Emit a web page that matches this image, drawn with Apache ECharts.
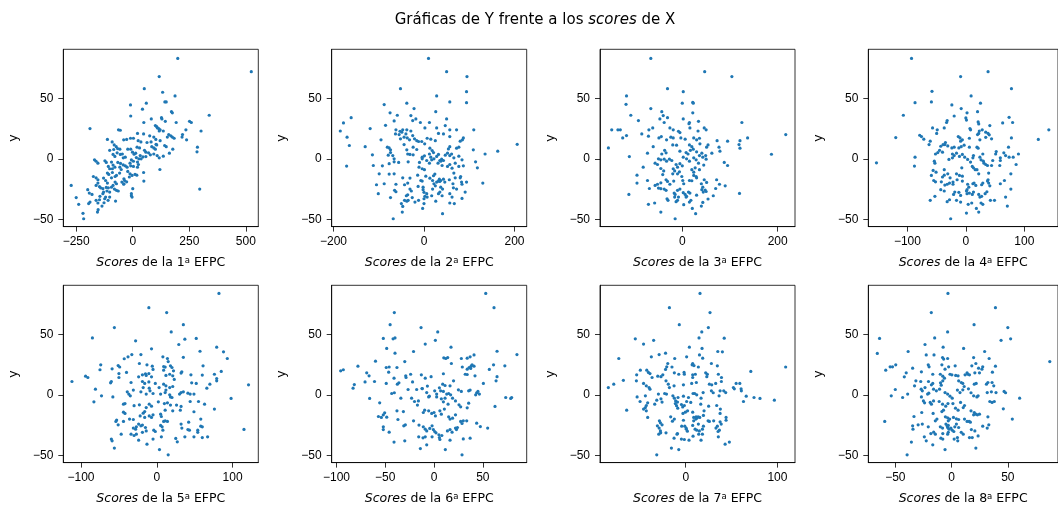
<!DOCTYPE html>
<html>
<head>
<meta charset="utf-8">
<script src="https://cdn.jsdelivr.net/npm/echarts@6/dist/echarts.min.js"></script>
<style>
  html, body { margin: 0; padding: 0; background: #fff; }
  #chart { width: 1058px; height: 509px; }
</style>
</head>
<body>
<div id="chart"></div>
<script>
// Y against the scores of each functional principal component (EFPC 1..8)
const efpc1 = [[199,83],[524,72],[117,68],[51,58],[132,55],[187,52],[142,47],[148,47],[-10,44.5],[60,46],[43,41],[171,39],[175,38],[-9,35.4],[338,36],[127,34],[129,33],[82,33],[144,31],[251,31],[259,30],[192,30],[49,30],[100,27.5],[106,26.6],[109,25.5],[115,25],[121,24],[-189,25],[-63,24],[-55,23.6],[235,24],[302,23],[135,23],[117,23],[21,21],[48,20.6],[220,20],[159,20],[168,19],[175,18],[183,17],[75,19],[93,18],[153,18],[3,17],[-10,17],[-27,16],[-112,16],[102,16],[121,15],[218,18],[238,15.7],[-91,14],[-40,15.7],[24,15],[36,14],[63,13.5],[81,14],[103,12],[106,11.5],[141,11],[148,10],[-82,11.5],[-73,10],[-67,8.5],[-57,8],[286,9.6],[284,5.8],[19,9.6],[30,9],[84,10],[93,9],[100,8],[177,8],[-22,8],[-9,8],[-102,7],[-84,7.7],[52,7],[58,5.5],[70,5],[162,4.7],[-1,5.5],[6,3.8],[13,4.7],[-69,5],[-55,3.6],[-46,4],[-87,3.6],[-79,2],[33,2.7],[45,1.6],[58,1.9],[78,3.3],[93,4],[108,2.7],[117,0.8],[135,2.2],[16,1],[27,0],[37,0],[21,-2.7],[-33,1.4],[-42,0.8],[-6,-0.8],[3,-2],[-169,-0.8],[-162,-2],[-154,-3.6],[-123,-1.6],[-117,-3],[-108,-6.3],[-102,-8.2],[-94,-2.7],[-87,-5.2],[-66,-3],[-54,-3.8],[-42,-5],[-33,-5.8],[-25,-6.9],[-12,-3.6],[-9,-5.8],[3,-6.3],[25,-4.7],[21,-6.9],[-79,-6.9],[-90,-8.2],[-57,-6.9],[-51,-8.8],[-22,-10.4],[-12,-12.4],[-3,-13.7],[-15,-15],[-112,-11.8],[-106,-12.9],[-90,-11.3],[-78,-14.6],[-72,-13.7],[-58,-11.8],[-39,-16.5],[10,-12.9],[18,-13.5],[48,-11.3],[49,-18.4],[120,-8.8],[-174,-14.6],[-162,-15.7],[-154,-17.3],[-129,-15.9],[-120,-17.9],[-112,-20],[-94,-15.7],[-78,-19.2],[-72,-20.6],[-48,-19.2],[-40,-21],[-39,-20.6],[-36,-17.9],[-27,-19],[-154,-20],[-162,-22],[-147,-23],[-142,-24],[-132,-24.7],[-117,-23.6],[-108,-24],[-94,-23.4],[-87,-22],[-81,-25],[-72,-26],[-64,-26.6],[0,-24.7],[-6,-28.8],[-6,-30.5],[-3,-31.6],[-272,-22],[-250,-32],[-239,-37.6],[-220,-45],[-217,-49.5],[-199,-25.5],[-192,-28.3],[-180,-29.4],[-189,-35.7],[-195,-37],[-162,-34.3],[-154,-36.5],[-147,-33.8],[-153,-42],[-156,-44],[-136,-39],[-124,-33],[-127,-36.3],[-109,-34.3],[-102,-31.6],[-120,-31.6],[-132,-28.8],[-76,-34.9],[-129,-27.5],[-114,-26.6],[-102,-27.5],[-145,-31],[296,-25]];

const efpc2 = [[10,83],[50,72],[95,68],[-52,58],[94,55.5],[94,46.4],[28,52],[57,47],[-88,44.8],[-38,46],[-22,41.5],[26,39],[-75,38],[-59,36],[-161,34],[-29,35.7],[-25,31.6],[-178,29.7],[-66,31.3],[-18,33],[50,33],[-8,30],[12,30],[47,27.5],[-85,27.7],[-119,25],[2,25.5],[28,25.5],[-185,23],[72,24],[57,24],[110,24],[-62,24],[-53,22.8],[-63,20.6],[-55,20],[-49,22],[-47,24],[-40,20.6],[-38,24],[-29,23],[43,20.6],[32,21],[-170,17.9],[57,18.4],[87,17.3],[85,15.7],[-95,15.7],[-52,16.5],[-44,17.9],[-37,17.3],[-32,15.7],[-25,19.2],[-21,16.5],[-16,15],[-12,14.3],[-5,14.3],[7,17],[15,16.2],[25,15],[-165,11],[80,14.6],[-130,10],[-81,9.6],[-77,9],[-74,7.4],[-44,11.8],[-38,7.4],[-24,9.6],[-16,7.7],[1.5,12.4],[13,8.8],[18,6.9],[57,10],[54,8.2],[72,8.8],[77,9.6],[109,7.4],[163,6.3],[206,12],[-114,3.3],[-74,5.2],[-69,2.7],[-66,0],[-36,4],[-31,3.6],[-24,3.3],[-4,1.4],[1,2.5],[-4,0],[12,4],[21,5.2],[15,1.4],[22,0],[28,2],[32,3.6],[35,-1.4],[39,-0.3],[47,3],[52,4.7],[57,2.7],[61,4],[66,0.8],[77,2.2],[135,4],[-171,-6],[-112,-5.5],[-92,-5.8],[-77,-4],[-66,-2.5],[-56,-3],[-35,-2.5],[-10,-3],[6,-1.4],[12,-3.6],[17,-0.8],[31,-3.6],[37,-1.9],[40,-5.5],[43,-1.4],[52,-6.3],[57,-4.7],[62,-7.7],[69,-3.6],[77,-6.3],[84,-0.8],[87,-5.8],[114,-2.5],[118,-7.4],[-4,-8.2],[1,-9],[-11,-6.9],[-99,-12.4],[-77,-12.6],[-66,-12.4],[-47,-15.7],[-31,-15.9],[-14,-13.5],[4,-14.3],[21,-14],[24,-12.6],[-7,-17.9],[-4,-18.4],[34,-16.8],[37,-17.9],[13,-16],[19,-17.9],[28,-19.2],[32,-18.4],[35,-18.7],[43,-16.8],[46,-19.2],[56,-17.3],[69,-15.7],[80,-15.7],[81,-14.6],[66,-11.8],[83,-19.2],[84,-21],[94,-19.2],[130,-20],[-105,-21.4],[-88,-20.6],[-62,-21],[-43,-21.4],[-36,-20],[-13,-22.8],[-2,-23.4],[22,-20.6],[25,-22.3],[19,-25],[37,-23.4],[41,-25],[64,-20.6],[65,-24],[72,-25],[-101,-28.8],[-65,-26],[-62,-27.2],[-31,-25],[-28,-26.6],[-36,-29.7],[-39,-30.5],[-43,-34.3],[-38,-35],[-35,-34.3],[-26,-32],[-2,-25.5],[0,-27.7],[6,-28.8],[2,-31],[0,-33],[17,-30.5],[32,-28.8],[35,-27.5],[40,-30.5],[26,-35],[57,-28.8],[62,-31.6],[67,-37],[84,-32.7],[91,-27.5],[-74,-32],[-50,-37],[-47,-39.3],[-20,-35.7],[-12,-34.3],[-3,-41],[0,-37],[57,-36.5],[-48,-44],[41,-45.3],[-68,-49.5],[7,-31.6],[-79,3]];

const efpc3 = [[-66,83],[47,72],[104,68],[-31,58],[2,55.5],[-117,52],[-118,45],[0,46],[22,46.7],[23,46],[-66,41.5],[22,38],[-43,39],[-40,35.7],[-108,36],[2,33],[-31,34],[-47,33],[-92,31.6],[34,31],[15,30],[-38,30],[125,30],[-130,24],[-148,24],[-135,24],[-70,24],[-62,25.5],[-26,25.5],[-19,24],[-8,22.8],[-5,21.7],[14,29],[16,25.5],[46,25.5],[50,24],[33,23],[-125,17.3],[-117,19.2],[-85,20.6],[-71,18.7],[-49,17.3],[-44,18.4],[-24,17.9],[-19,17.3],[-3,17.3],[6,16.2],[24,17.3],[30,15.7],[36,17],[73,15],[95,14.6],[121,15],[137,17.3],[-33,15.7],[-155,9],[-61,10],[-20,11.5],[-12,11.3],[15,11.5],[20,10],[37,12.4],[51,9.6],[54,11.5],[77,9.6],[79,6.3],[119,11.8],[121,8.8],[-111,1.9],[-73,4.7],[-37,7],[-34,5],[-43,4],[-5,6.3],[8,5.2],[12,4],[17,7],[23,8],[30,5.8],[36,2.7],[41,4.7],[43,1.4],[49,2.7],[62,4.7],[187,3.8],[217,20],[-50,0],[-45,-0.8],[-38,-0.3],[-27,-0.3],[-22,-1.4],[2,1.4],[9,0],[15,-1.9],[24,0.8],[29,-0.8],[34,-3.6],[45,-5.2],[50,-0.3],[88,-3],[95,-5.5],[-57,-3.6],[-52,-4.7],[-33,-1.9],[-13,-4.7],[-10,-6.9],[-5,-4],[0,-5.8],[-82,-6.9],[-45,-8],[-39,-10],[-41,-13],[-19,-8.2],[-16,-10],[-10,-12.4],[-6,-10.7],[20,-9],[24,-11],[27,-7.4],[36,-9],[-95,-13.5],[-95,-20],[-112,-29.4],[-73,-17.9],[-57,-22],[-52,-21],[-45,-19.8],[-34,-17.3],[-31,-18.7],[-26,-21],[-20,-12.4],[-18,-18.4],[-1,-14.6],[1,-17.9],[3,-20.6],[15,-17.9],[20,-18.1],[24,-13.7],[29,-14.6],[30,-15.7],[46,-17.3],[51,-19.5],[40,-20.6],[43,-23.4],[48,-25.8],[50,-27],[72,-17.3],[78,-21],[70,-24.5],[90,-22.3],[120,-28.6],[-69,-24.5],[-50,-24.2],[-45,-24.7],[-38,-25],[-34,-26],[-32,-33],[-30,-34.3],[-17,-28.3],[-15,-29.4],[-10,-26],[-5,-25],[-8,-31.6],[2,-28],[6,-29.4],[8,-31.6],[13,-27.5],[16,-28.3],[30,-30],[41,-25.5],[44,-27.5],[65,-30.5],[54,-33.2],[-13,-35.4],[-10,-34.3],[-16,-31.6],[3,-37.9],[15,-35.7],[40,-39],[43,-36],[-71,-37.6],[-58,-36.5],[-45,-44],[21,-41],[28,-45.3],[-15,-49.5],[9,-31],[18,-34.3]];

const efpc4 = [[-93,83],[38,72],[-9,68],[78,58],[-58,55.8],[9,52],[-87,46.4],[-59,47],[25,46],[-24,44.5],[-8,41.5],[20,39],[2,38],[-107,36],[-20,35.4],[74,34.3],[0,33.8],[1,32],[-32,31.6],[-33,30],[63,29.7],[80,30],[21,30.5],[22,28.8],[41,27.5],[-57,25.5],[-37,25.5],[7,25],[8,24],[-49,24],[-50,21],[28,24],[142,24],[34,22],[38,21],[40,19.8],[23,23],[22,21],[20,20],[-120,17.6],[-79,19.5],[-76,18.4],[-72,16.2],[-61,14.6],[-63,11.8],[-13,18.4],[-10,17.3],[-6,15.7],[-9,14.6],[6,17],[24,15.7],[34,17.8],[44,16.5],[78,17.3],[124,16],[-35,13.5],[-36,11.8],[-31,10.7],[-43,10.4],[-39,11.8],[-24,9],[-20,9.6],[-12,9],[-8,10],[-3,11.3],[6,9.6],[19,9.6],[21,8.8],[73,9.6],[-52,4],[-48,5.2],[-45,7],[-40,5.5],[-23,4],[-20,2.7],[-16,4.7],[-11,2],[-6,3.6],[-2,1.4],[13,2.7],[12,0.8],[29,4],[52,6],[51,4],[65,5],[74,1.4],[68,2.7],[90,4],[59,0.8],[81,1.4],[-87,1.4],[-153,-3.3],[-88,-6],[-54,-1.9],[-53,-3.6],[-29,-0.5],[-23,0.8],[3,-0.5],[8,-2.7],[11,-6.3],[13,-7.4],[16,-9],[24,1.4],[26,-0.8],[30,-1.9],[31,-3.6],[34,-4.7],[37,-5.5],[44,-5.5],[46,-1.4],[58,-5.5],[59,-1.4],[86,-4.7],[-56,-9.6],[-59,-13.7],[-51,-11],[-37,-9],[-37,-13.5],[-40,-15],[-31,-12.4],[-27,-15.7],[-16,-12.4],[-11,-13.7],[-7,-7.4],[-6,-14.3],[19,-9],[22,-12.4],[39,-11.8],[38,-17.3],[77,-12.4],[-55,-17.9],[-52,-19],[-42,-19],[-36,-21.7],[-32,-21],[-28,-20],[-22,-19.2],[-22,-21],[-15,-17.3],[-6,-18.4],[3,-21],[5,-23.4],[2,-25.5],[12,-20.6],[14,-20],[17,-22],[29,-20],[27,-21.4],[37,-18.4],[39,-20],[41,-22.3],[59,-20.6],[66,-17.9],[77,-25],[-43,-25.5],[-37,-26.6],[-19,-27.5],[-21,-29.4],[-12,-27.7],[-9,-30.2],[1,-26.6],[2,-28.8],[6,-28.3],[11,-29.4],[13,-27.5],[22,-29.4],[24,-31.6],[27,-31],[33,-28.8],[36,-27.2],[68,-31.6],[-53,-31],[-61,-34.3],[-32,-35.4],[-28,-33.8],[-16,-34.3],[-9,-35.7],[4,-37.6],[10,-36.5],[26,-36.5],[29,-37.6],[42,-34.3],[49,-34.3],[71,-39],[18,-41],[1,-44.8],[22,-44],[-26,-49.5]];

const efpc5 = [[82,83.8],[-10.5,72],[13,68],[35,58],[-56,55.6],[19,52],[-85,47],[-28,44.6],[37,46],[52,46.6],[-7,38],[29,41.6],[79,39.4],[88,35.5],[57,36],[35,31],[93,30],[-43,29.8],[-38,31.4],[-33,33.3],[-21,33.3],[8,31.4],[14,30],[15,27.5],[-74,24.8],[-75,20.7],[-51,24.2],[-49,23],[-23,25.9],[-13,24.8],[-6,23.7],[-5,21],[9,23.4],[11,22.9],[9,20.4],[18,24],[20,22.6],[22,19.8],[-59,21.5],[33,19],[32,18],[61,24],[85,19.3],[-94,15.4],[-91,14.3],[-61,9.9],[-60,11],[-50,17.6],[-50,14.3],[-40,18.5],[-24,14.9],[-19,16.5],[-15,17.4],[-14,16],[-10.5,17.6],[-7,14.9],[12,16],[17,17],[21,15.7],[23,12.7],[45,16.5],[60,16.3],[76,17],[79,13.5],[79,11.6],[-112,11],[-81,4.7],[-34,10.2],[-19,11],[-16,9.4],[-10.5,10.7],[-2,9.4],[9,8.8],[12,7.4],[21,6.9],[17,6],[46,9.9],[52,9.4],[70,8.8],[66,5.5],[121,8.3],[-39,2.5],[-37,0.6],[-35,-0.8],[-31,3.9],[-18,6],[-21,2.5],[-14,0.6],[-10,5.5],[-9,3.3],[-5,1.1],[3,6],[5,0.6],[11,1.9],[12,3.9],[17,0],[20,-2.2],[30,0.6],[32,1.9],[35,2.5],[41,1.4],[-73,-0.8],[-58,-1.7],[-83,-5.8],[98,-3],[-44,-7.7],[-42,-7.2],[-30,-9],[-23,-8.3],[-14,-10.5],[-10,-7.7],[-7,-9.4],[2,-5.8],[10,-7.2],[14,-6.6],[18,-1.7],[18,-8.5],[26,-8.5],[32,-9.6],[44,-5.5],[55,-5.5],[63,-7.7],[44,0.6],[49,0.6],[76,-11.8],[-44,-14.3],[-42,-15.4],[-16,-13.8],[-18,-15.2],[-22,-17.4],[-10,-17.4],[-7,-18.7],[-5,-16.5],[5,-16],[6,-17.9],[21,-13.2],[11,-12.7],[31,-12.7],[49,-14],[-53,-20.9],[-54,-22],[-51,-24.8],[-44,-22],[-36,-20],[-31,-20.4],[-16,-18.7],[11,-21.5],[9,-22],[14,-22],[42,-22.6],[58,-20],[58,-25.9],[60,-26.4],[-24,-24.2],[-21,-25.6],[-19,-25],[-15,-27],[5,-25.3],[7,-26.4],[32,-24.2],[33,-27.5],[-31,-27.5],[-28,-28.4],[-27,-26.4],[-4,-29.2],[-2,-30.3],[8,-29.2],[-19,-31],[-14,-29.8],[54,-31],[54,-29.2],[41,-28.7],[43,-29.2],[115,-28.6],[-34,-32.5],[-30,-33.6],[-27,-32.5],[-47,-32.5],[6,-34.7],[25,-36],[27,-38.8],[37,-34.7],[49,-34.7],[60,-35.3],[67,-34.7],[-60,-36.6],[-59,-38],[-5,-36.6],[-24,-37.5],[-13,-40.8],[-56,-44],[3.5,-45.2],[15,-49.6]];

const efpc6 = [[53,83.8],[61.5,72],[-40.7,68],[-45,58],[-13.3,55.6],[3.8,52],[-52,46.6],[-42,46.3],[-40,47],[1.4,45],[-9,41.9],[-48.5,38.3],[17.4,39.4],[-40,34.4],[-21,35.8],[64.6,36],[85,33.3],[-30,27.5],[-60,27.8],[-78,23.7],[-46,23],[-49,22.6],[28,30],[34,30.3],[37,31.4],[41,33],[10,30.6],[12,30],[14,30.8],[17.8,25.9],[29,23],[36,22.6],[38,23.7],[41,23.7],[39,24.8],[37.6,21.8],[34,21.2],[61,24.8],[72.6,24],[-95.7,19.8],[-93,20.7],[-69,18.2],[-66.6,15.7],[-46.5,18.7],[-38,22.6],[-29,15.7],[-28.7,14.3],[-24,17],[-13,16.5],[-3,15],[9.6,17.4],[20,11.6],[34,16.8],[32,17],[56.7,21],[64.6,15],[63.6,11.6],[50.6,9.4],[42,15.7],[-70.7,10.7],[-61,11],[-49,9.4],[-37.6,8.8],[-36,9.9],[-41,13.8],[-22,10.7],[-9,13.8],[-6.8,7.2],[-12,5.2],[8.9,8.8],[11.3,7.7],[16.4,7.4],[-83,5.5],[-81.7,8.5],[-66,-3],[-55.7,-6.6],[-43.4,1.1],[-40.7,1.7],[-34,-2.8],[-23,-2.8],[-26.6,4.4],[-17.8,4.4],[-12.3,5.2],[-7.5,1.9],[-4.8,-1.1],[0.7,3.3],[2.7,0.6],[5.5,5.8],[6.8,3.3],[9.6,2.8],[13,0.6],[15,1.1],[17,0],[25,4.1],[28,2.8],[35.5,3.3],[37,3.9],[43.7,1.7],[45,2.8],[46.5,0.6],[42.7,0],[73.5,-2.2],[78.6,-3],[79.6,-2.2],[62.5,-9.6],[-20,-5.5],[-16,-5],[-17,-8.5],[-5.5,-1.7],[2.7,-1.7],[7.5,-3.3],[11.3,-2.8],[14.4,-7.7],[9.6,-5.8],[19,-2.8],[22,-5],[25.6,-8.3],[27.3,-9.9],[34,-10.7],[35.5,-6.9],[-38,-13.2],[-31.4,-13.8],[-11,-14.6],[-9.6,-12.7],[-5.5,-13.2],[-2.4,-15.4],[0,-14.6],[1.4,-17.4],[6,-13.2],[7.5,-16],[10.6,-11.8],[15,-18.2],[16.4,-20],[19,-19.3],[22,-16.5],[27.3,-22],[28.7,-23.7],[30,-21.5],[33.5,-21.5],[43.7,-23.4],[47.5,-26.2],[55,-27.5],[-57,-17.9],[-54,-18.7],[-50.6,-14.9],[-52,-16.5],[-48.5,-18.5],[-37,-20.4],[-29.4,-24.8],[-31,-25.6],[-21,-21.5],[-15.4,-25],[-11,-26.4],[-9,-28.4],[-7.5,-29.8],[-4.4,-27.8],[-2,-25.6],[-0.7,-28.7],[0.7,-30.3],[2,-31.4],[5,-33],[8,-33.6],[13.7,-29.8],[16.4,-28.7],[18.5,-30.9],[23,-28.7],[22,-27.5],[24,-27],[-52,-26.4],[-52,-28.7],[-46,-30.9],[-15.7,-34.7],[-11.3,-35.5],[-9,-34.7],[-2,-34.7],[5.5,-35.3],[6,-36.9],[16.4,-37.5],[30,-36.4],[-30,-38],[-41,-39],[-7.5,-41.3],[-14,-44.4],[11.6,-45.2],[28.7,-49.6],[37,-35.8]];

const efpc7 = [[15.6,83.8],[-17.8,72],[26.5,68],[-7,58],[24.7,55.6],[17.5,52],[-55,46.3],[42,46.8],[14.5,47],[-35,45],[-46,41.9],[4,39.4],[17.8,38.3],[-73,30],[35,35.8],[40,35.5],[-22,34.4],[-29,33.3],[15,33],[-12,30],[1,31.4],[-37.5,31.4],[18.5,30.3],[7,24.8],[7.6,25.9],[9,24.2],[28,25.9],[34.5,24],[13.8,23],[71,19.3],[109,23],[-49.5,20.4],[-53.5,16.5],[-42.5,20.4],[-39,17.6],[-40.7,18.5],[-22,21],[-20.7,23.1],[-19.6,25.9],[-15,23],[-27,15],[-25,16.5],[-30.5,15.4],[-12.4,18.2],[-7.6,17],[-1.8,18.5],[-1.5,17],[7.6,16.5],[10.5,17],[7.6,14.3],[21.8,18.2],[23.6,17],[23,15],[35.6,17],[39,14.3],[32.7,9.4],[38.9,11],[-68,12],[-78.5,8.8],[-84.4,6],[-53.8,11.6],[-46,9.4],[-43,7.4],[-40,6],[-39,4.7],[-36.7,14.3],[-21.5,11.6],[-19,8.8],[-17.8,6],[-12.7,7.4],[-2.5,8.3],[6.5,9.4],[11.6,10.2],[25.8,8.8],[28.4,8.3],[30,1.7],[28,3.3],[41.5,3.3],[43.6,1.9],[52,6],[53,5],[55,9.4],[59,9.4],[60.4,5],[60.7,3.3],[66,-1.1],[63,-5.5],[74.5,-2.2],[81,-3],[96.7,-4.4],[-53,-1.7],[-44,-0.8],[-49.8,-5.5],[-29.8,0.6],[-23,1.1],[-21,0.6],[-31.6,-4.4],[-25.8,-6],[-27,-3.3],[-14,-0.8],[-12.4,-2.8],[-11,-5],[-9,-6],[-8.4,-2.2],[-2.5,-1.1],[1,-5.5],[3,-2.2],[5.5,-6.3],[8,1.1],[9.8,1.1],[12,0],[16.7,-2.8],[19,1.9],[36.4,-0.8],[37.5,3.3],[-43,-8.8],[-41.5,-6.6],[-44,-10.5],[-43,-13.2],[-46,-11.8],[-64.4,-12.7],[-41.5,-18.7],[-33.8,-7.7],[-11.3,-7.2],[-10,-9],[-8.7,-11],[-4.7,-8],[-3.3,-10],[-1.5,-8.8],[2,-13.2],[-3,-15.4],[-0.4,-14.3],[7.6,-14.3],[8.7,-18.7],[11.3,-18.2],[12,-19.3],[13.5,-18.2],[15.3,-18.7],[19.3,-17],[20,-13.2],[16.4,-7.7],[25,-9.4],[33.8,-8.8],[37.8,-11.8],[-16.4,-18.2],[-14.5,-21.8],[-12.4,-20],[-2.5,-21],[-1,-25.9],[0.4,-27.5],[8.7,-21.5],[11,-20],[13.8,-24.2],[30.5,-21.5],[37.5,-22.3],[38.7,-24.2],[44,-18.7],[44,-21],[37.5,-15.4],[-28.7,-21.5],[-27.6,-23.1],[-25.8,-24.8],[-30.9,-25.6],[-29,-27.5],[-27.6,-29.8],[-27.3,-31.4],[-29.4,-32.5],[-21.5,-31.4],[-9.5,-32.5],[-9,-32],[-4.4,-25.9],[0.7,-28.4],[1.8,-30],[7.6,-25.3],[10.2,-28.4],[12,-29.2],[14.9,-29.8],[18.2,-28.4],[19.3,-25.9],[24.4,-21.5],[25.8,-22],[33,-27.5],[34.5,-25.9],[35.3,-30.3],[36.7,-29.2],[-12.7,-35.8],[-4.7,-36.6],[-1.5,-36.9],[3.6,-37.5],[8,-34.2],[14.2,-32.5],[18.2,-32.5],[16.7,-37.5],[35.6,-34.7],[47.6,-39],[43,-40.8],[-15.6,-44],[-7.6,-45.2],[-31.6,-49.6]];

const efpc8 = [[-3.2,83.8],[39,72],[-18,68],[20,58],[50,55.6],[-3.5,52],[52.5,46.3],[-64,46.6],[44,45],[-15,47],[-23.6,41.6],[-7.5,39.4],[10.7,38.3],[29.4,35.8],[-66,34.2],[-38.6,35.8],[-15.6,33],[-22.5,33],[33.4,30],[-8,30.8],[-7,29.5],[19.6,30.8],[-3.5,30],[-49.6,24.8],[-52.5,23.1],[-54.6,23.1],[-34.6,22],[-20.7,24.8],[-20,23.1],[-8.6,24.8],[-5.8,21.2],[-2.6,23.1],[3.2,24],[21.6,25.9],[18,24],[24,22],[27.7,23.1],[27,21.2],[39,23.7],[87.3,27.5],[-58.5,20.4],[-40.3,18.2],[-42,14.9],[-26.8,19],[-16.7,17],[-10,17],[-7.8,15.4],[-6.3,13.8],[-1.4,17],[0.3,16.5],[3.7,16],[5.8,15.7],[12,16.5],[13.8,18.2],[14.4,17],[15.9,16.5],[20.7,18.2],[24.8,18.2],[36.3,18.7],[-31.7,11.6],[-27.4,11],[-20.5,11],[-17.9,8.3],[-16.7,9.4],[-9.8,9.9],[-7.8,11.6],[-9.2,8],[6.3,11.6],[8.6,10.2],[10,9.4],[11.2,6.9],[20.2,8.8],[21.9,9.4],[31,8.8],[32.3,10.2],[36,10.2],[37.5,7.4],[39.5,1.9],[-32.9,7.4],[-50,4.4],[-27,4.7],[-26,3.3],[-23.6,6],[-39,0.6],[-43.5,-2.2],[-53.6,-0.8],[-16,4.7],[-13.5,3.3],[-10.7,4.7],[-5.8,1.9],[-3.5,0.6],[-1.4,-1.1],[0.6,-2.8],[5.2,3.9],[7.5,1.9],[10,4.1],[15,5],[17.3,1.7],[22.5,-1.7],[23.6,-0.8],[19.6,-0.8],[31.7,1.9],[35.4,2.5],[46.7,2.8],[48,1.7],[60.5,-2.8],[34,-5.5],[36,-6.3],[38,-5.5],[46,-11.6],[54,-20],[-26.8,-1.7],[-25,-5],[-24,-6.6],[-21.3,0.6],[-20.2,1.4],[-19,-6.3],[-17.9,-7.7],[-16,-5],[-11,-5.5],[-8,-7.7],[-5.2,-9.4],[-3.2,-7.2],[1.2,-7.2],[3.5,-11],[5.8,-12.7],[8,-6.3],[10.4,-10.5],[11.5,-8.8],[17.3,-13.2],[20.2,-14.6],[21.6,-16],[23,-16.5],[24.8,-16],[19.6,-16.5],[32.3,-18.2],[-26.5,-14.6],[-33.4,-17.9],[-16.4,-15.4],[-8.6,-13.8],[-7.2,-12.7],[-14.4,-21.5],[-13,-20],[-5.5,-18.2],[-3.5,-19],[-2.9,-21.5],[-1.7,-20],[1.7,-18.7],[4.3,-19.8],[6.3,-20.4],[11.5,-20],[13.8,-22],[15.6,-22],[16.7,-22.6],[-59.4,-22],[-34.6,-25.6],[-29.7,-24.8],[-26,-24.2],[-20.7,-26.4],[-10,-26.4],[-8,-27.5],[-5,-24.2],[-4,-25.6],[-3.5,-27],[-2.9,-25.3],[-2.3,-28.4],[-0.6,-27.5],[0.6,-29.2],[2.9,-26.4],[4.3,-24.2],[6.3,-27],[27.7,-25.9],[33.1,-24.8],[31.7,-27.5],[17.6,-28.7],[20.7,-29.8],[-34.3,-28.4],[-18.4,-32],[-15.9,-30.9],[-14.4,-32.5],[-7.8,-32],[-3.5,-32.5],[-2.9,-31],[2,-30.3],[8.6,-31],[10.4,-32.5],[15.9,-35.3],[18.4,-35.3],[23.6,-34],[-24.2,-34.7],[-22.5,-38],[-9.5,-35.8],[-7.8,-36.6],[2.3,-36.6],[5.2,-35.3],[5.5,-38],[-16.7,-41.3],[-35.7,-39],[-5.8,-45.2],[21.6,-44],[-39.5,-49.6]];

// tick positions on each x axis, and the shared y ticks
const xTicks1 = [-250, 0, 250, 500];
const xTicks2 = [-200, 0, 200];
const xTicks3 = [0, 200];
const xTicks4 = [-100, 0, 100];
const xTicks5 = [-100, 0, 100];
const xTicks6 = [-100, -50, 0, 50];
const xTicks7 = [0, 100];
const xTicks8 = [-50, 0, 50];
const yTicks = [-50, 0, 50];

// visible x range of each panel
const xRanges = [[-307, 555], [-204, 227], [-172.6, 236.4], [-167, 157.7],
                 [-123.4, 133.9], [-104.9, 95], [-93.5, 119.2], [-74, 94.6]];
const yRange = [-56, 90.5];

const series = [efpc1, efpc2, efpc3, efpc4, efpc5, efpc6, efpc7, efpc8];
const xTicks = [xTicks1, xTicks2, xTicks3, xTicks4, xTicks5, xTicks6, xTicks7, xTicks8];

// layout (pixels)
const colLeft = [63.3, 331.7, 600, 868.3];
const rowTop = [49.3, 285.3];
const panelW = 195;
const panelH = 177.3;

const TICK_FONT = 'Liberation Sans';
const TEXT_FONT = 'DejaVu Sans';
const minus = v => String(v).replace('-', '\u2212');

const grids = [], xAxes = [], yAxes = [], seriesOpts = [];
series.forEach((data, i) => {
  const r = Math.floor(i / 4), c = i % 4;
  grids.push({
    left: colLeft[c], top: rowTop[r], width: panelW, height: panelH,
    show: true, borderColor: '#000', borderWidth: 0.8, backgroundColor: 'transparent'
  });
  xAxes.push({
    type: 'value', gridIndex: i, min: xRanges[i][0], max: xRanges[i][1],
    axisLine: { show: true, onZero: false, lineStyle: { color: '#000', width: 0.8 } },
    axisTick: { show: true, length: 5, customValues: xTicks[i], lineStyle: { color: '#000', width: 0.8 } },
    axisLabel: { customValues: xTicks[i], formatter: minus, margin: 9,
                 color: '#000', fontFamily: TICK_FONT, fontSize: 12 },
    splitLine: { show: false },
    name: '{it|Scores} de la ' + (i + 1) + '{sup|a} EFPC',
    nameLocation: 'middle', nameGap: 29.5,
    nameTextStyle: {
      color: '#000', fontFamily: TEXT_FONT, fontSize: 12.5,
      rich: {
        it: { fontStyle: 'italic', color: '#000', fontFamily: TEXT_FONT, fontSize: 12.5 },
        sup: { fontSize: 8.5, color: '#000', fontFamily: TEXT_FONT, verticalAlign: 'top', lineHeight: 14, padding: [0, 0, 6, 0] }
      }
    }
  });
  yAxes.push({
    type: 'value', gridIndex: i, min: yRange[0], max: yRange[1],
    axisLine: { show: true, onZero: false, lineStyle: { color: '#000', width: 0.8 } },
    axisTick: { show: true, length: 5, customValues: yTicks, lineStyle: { color: '#000', width: 0.8 } },
    axisLabel: { customValues: yTicks, formatter: minus, margin: 10,
                 color: '#000', fontFamily: TICK_FONT, fontSize: 12 },
    splitLine: { show: false },
    name: 'y', nameLocation: 'middle', nameGap: 43, nameRotate: 90,
    nameTextStyle: { color: '#000', fontFamily: TEXT_FONT, fontSize: 12.5 }
  });
  seriesOpts.push({
    type: 'scatter', xAxisIndex: i, yAxisIndex: i, data: data,
    symbol: 'circle', symbolSize: 3.2,
    itemStyle: { color: '#1f77b4', opacity: 1 },
    silent: true, animation: false
  });
});

const chart = echarts.init(document.getElementById('chart'), null, { renderer: 'canvas' });
chart.setOption({
  animation: false,
  backgroundColor: '#fff',
  title: {
    text: 'Gráficas de Y frente a los {it|scores} de X',
    left: 530, top: 8, textAlign: 'center',
    textStyle: {
      color: '#000', fontFamily: TEXT_FONT, fontSize: 15, fontWeight: 'normal',
      rich: { it: { fontStyle: 'italic', color: '#000', fontFamily: TEXT_FONT, fontSize: 15 } }
    }
  },
  grid: grids, xAxis: xAxes, yAxis: yAxes, series: seriesOpts
});
</script>
</body>
</html>
